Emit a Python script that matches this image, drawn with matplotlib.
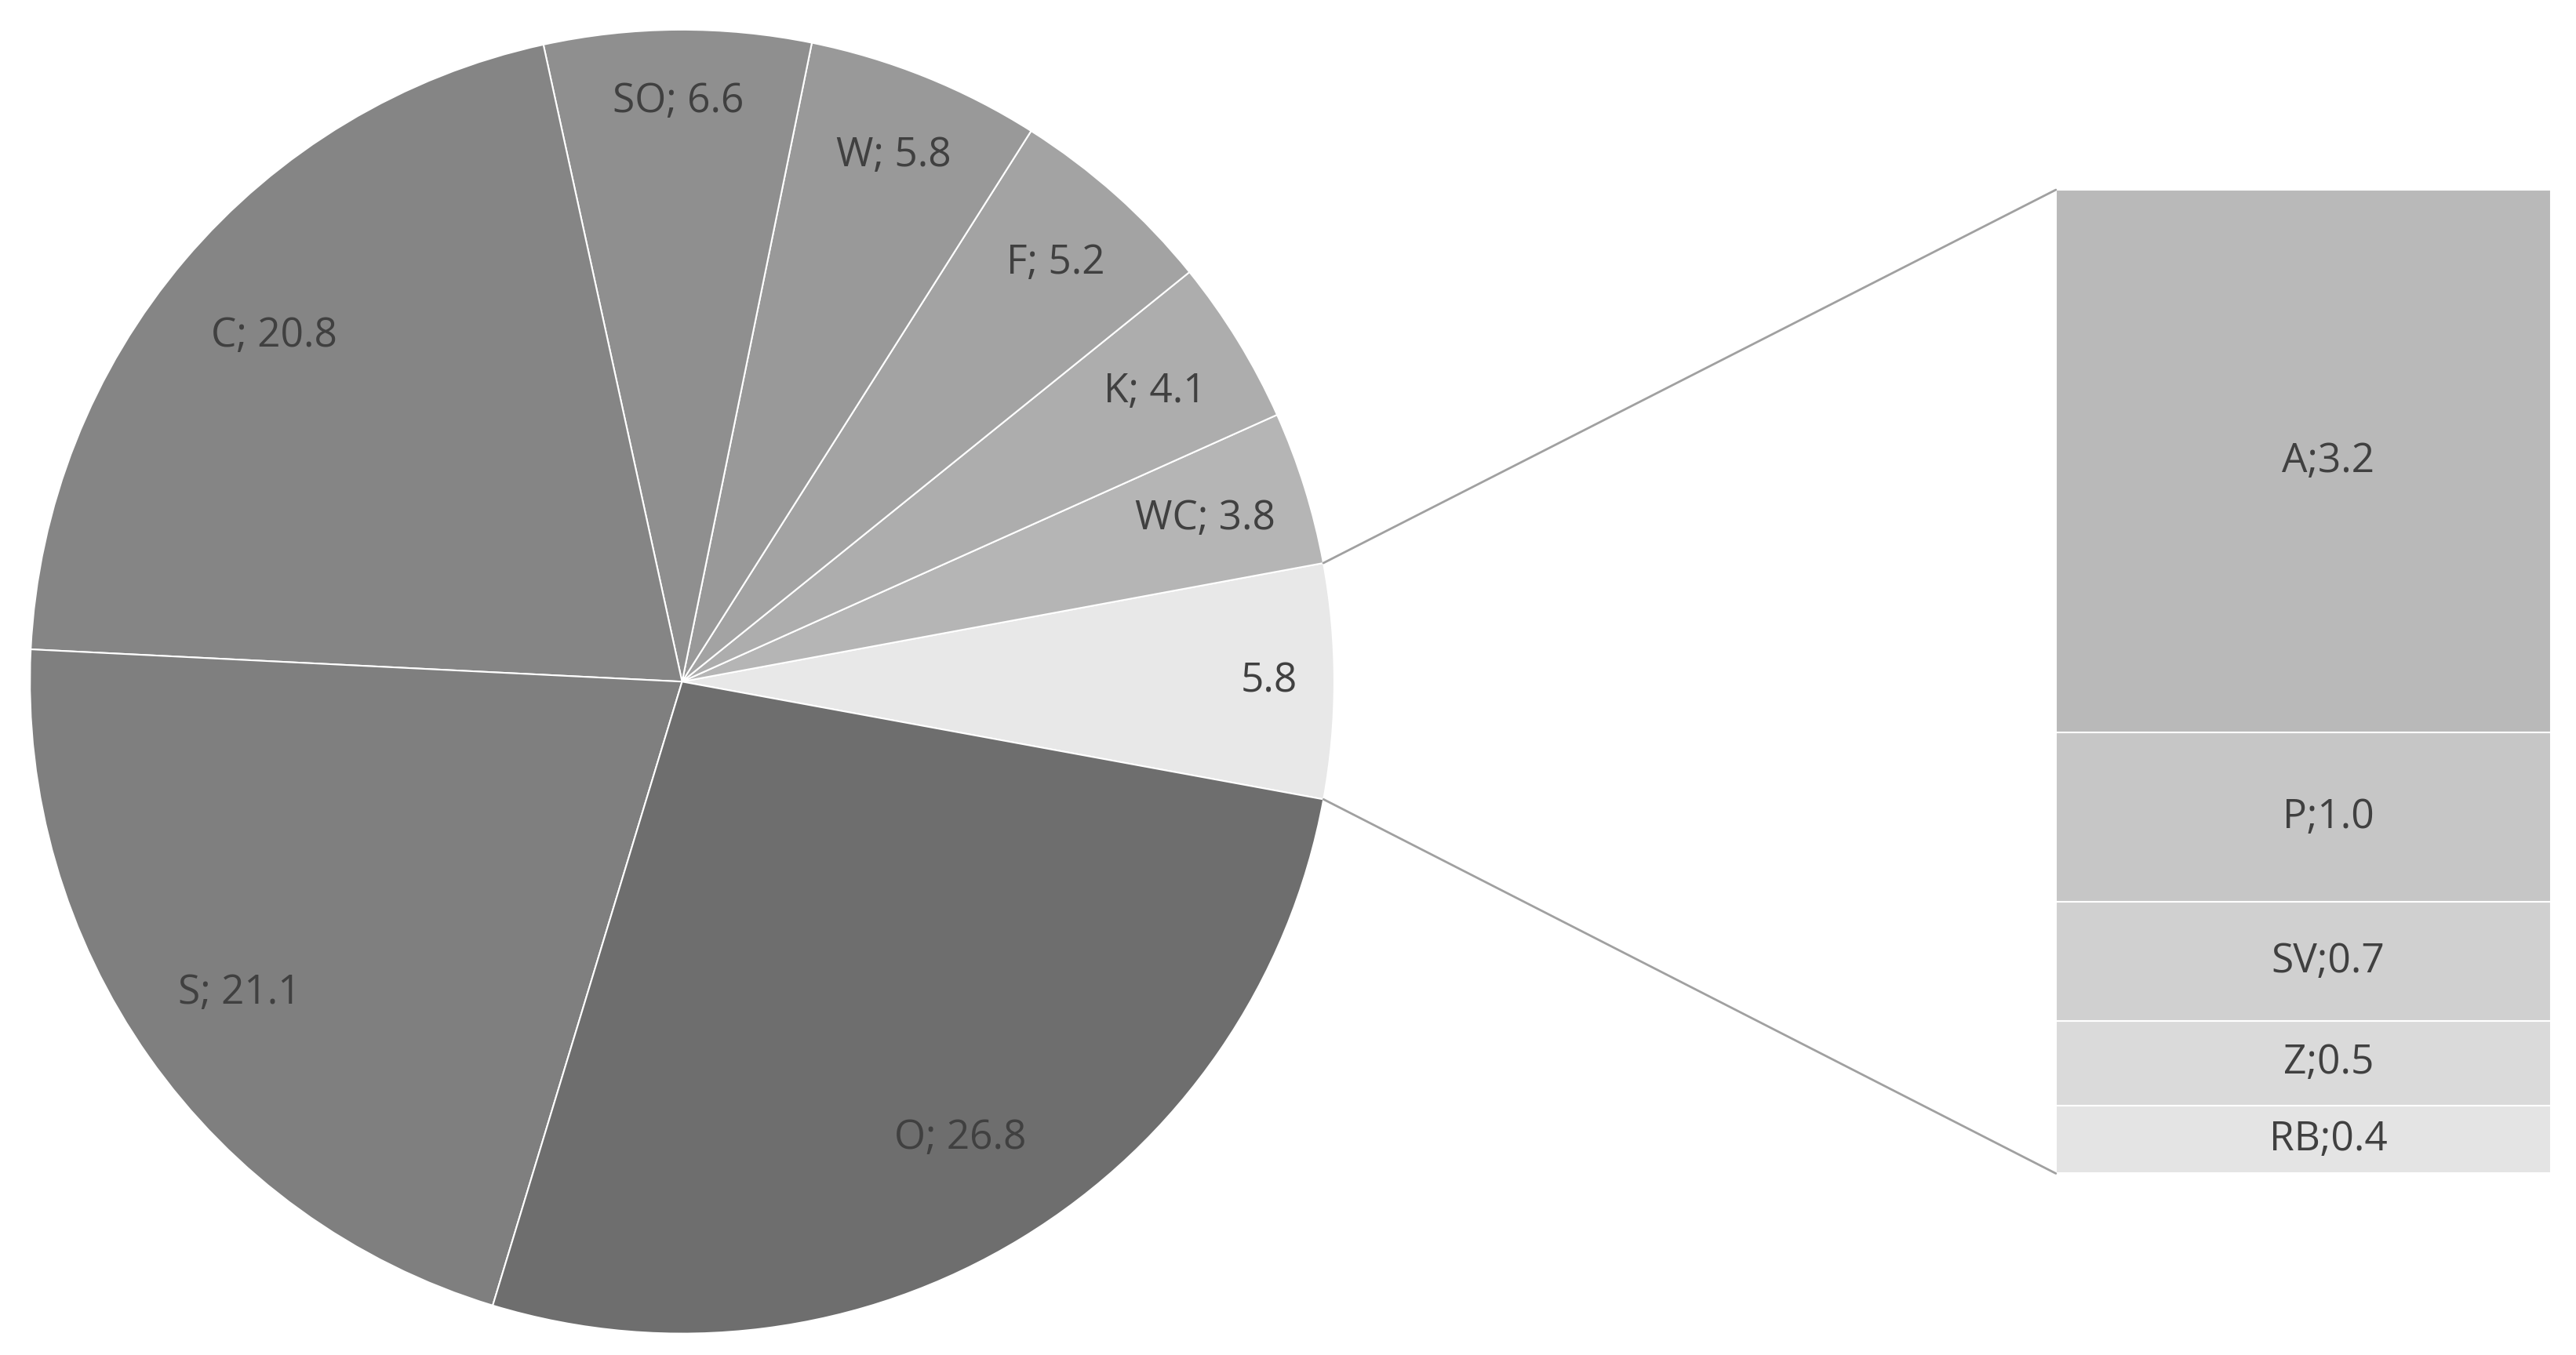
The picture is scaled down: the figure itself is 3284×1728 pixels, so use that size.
import matplotlib
matplotlib.use("Agg")
import matplotlib.pyplot as plt
from matplotlib.patches import ConnectionPatch
import numpy as np

pie_labels = ["", "WC", "K", "F", "W", "SO", "C", "S", "O"]
pie_values = [5.8, 3.8, 4.1, 5.2, 5.8, 6.6, 20.8, 21.1, 26.8]
pie_colors = ["#e8e8e8", "#b5b5b5", "#adadad", "#a3a3a3", "#999999",
              "#8f8f8f", "#858585", "#7f7f7f", "#6e6e6e"]
label_r = [0.90, 0.84, 0.85, 0.86, 0.87, 0.89, 0.82, 0.83, 0.82]

bar_labels = ["A", "P", "SV", "Z", "RB"]
bar_values = [3.2, 1.0, 0.7, 0.5, 0.4]
bar_colors = ["#b9b9b9", "#c6c6c6", "#d0d0d0", "#dadada", "#e4e4e4"]

W, H = 1560, 821
fig = plt.figure(figsize=(32.84, 17.28), dpi=100)
ax = fig.add_axes([0, 0, 1, 1])
ax.set_xlim(0, W); ax.set_ylim(0, H); ax.set_aspect("equal"); ax.axis("off")

cx, cy, R = 413, H - 413, 395
start = -10.4
wedges, _ = ax.pie(pie_values, colors=pie_colors, startangle=start, counterclock=True,
                   center=(cx, cy), radius=R, frame=True,
                   wedgeprops=dict(edgecolor="white", linewidth=1.5))
ax.set_xlim(0, W); ax.set_ylim(0, H); ax.axis("off")
font = "Open Sans"
for w, lab, v, r in zip(wedges, pie_labels, pie_values, label_r):
    mid = np.deg2rad((w.theta1 + w.theta2) / 2)
    txt = f"{lab}; {v:.1f}" if lab else f"{v:.1f}"
    ax.text(cx + r * R * np.cos(mid), cy + r * R * np.sin(mid), txt,
            ha="center", va="center", fontsize=37, color="#404040", family=font)

bx = fig.add_axes([1245 / W, (H - 711) / H, 300 / W, 596 / H])
bottom = 0.0
for lab, v, c in zip(bar_labels, bar_values[::-1][::-1], bar_colors):
    pass
# stack from bottom: RB at bottom
bottom = 0.0
for lab, v, c in reversed(list(zip(bar_labels, bar_values, bar_colors))):
    bx.bar(0.5, v, width=1, bottom=bottom, color=c, edgecolor="white", linewidth=1.5)
    bx.text(0.55, bottom + v / 2, f"{lab};{v:.1f}", ha="center", va="center",
            fontsize=37, color="#404040", family=font)
    bottom += v
bx.set_xlim(0, 1); bx.set_ylim(0, sum(bar_values)); bx.axis("off")

t1 = np.deg2rad(wedges[0].theta1); t2 = np.deg2rad(wedges[0].theta2)
for th, yb in [(t2, sum(bar_values)), (t1, 0)]:
    con = ConnectionPatch(xyA=(cx + R * np.cos(th), cy + R * np.sin(th)), coordsA=ax.transData,
                          xyB=(0, yb), coordsB=bx.transData, color="#a0a0a0", linewidth=2)
    fig.add_artist(con)

fig.savefig("out.png", dpi=100, facecolor="white")
